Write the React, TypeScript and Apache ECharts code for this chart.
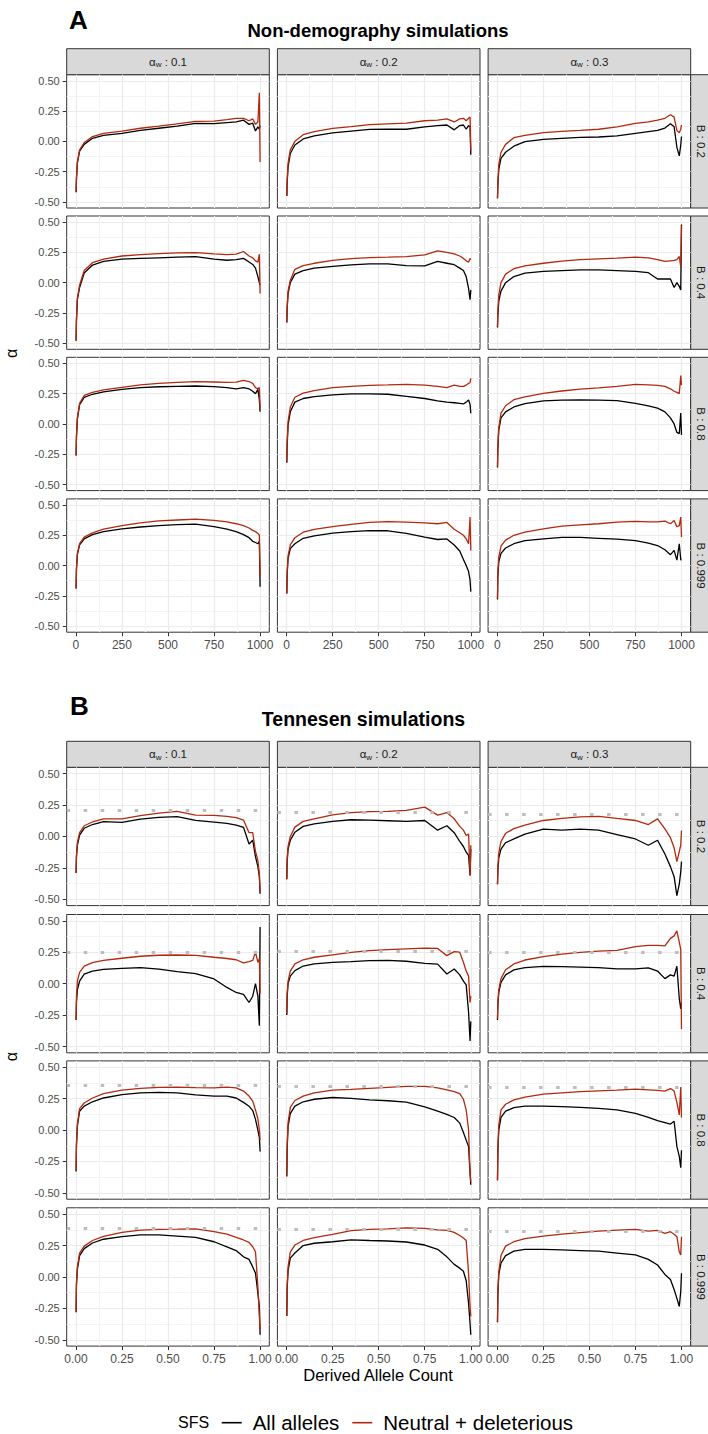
import React, { useEffect, useRef } from "react";
import * as echarts from "echarts";

const FONT = "'Liberation Sans', Arial, Helvetica, sans-serif";

// ---------- categories and tick labels ----------
const alphaWLevels = ["0.1", "0.2", "0.3"];
const bLevels = ["0.2", "0.4", "0.8", "0.999"];
const seriesNames = ["All alleles", "Neutral + deleterious"];
const yTickValues = [-0.5, -0.25, 0, 0.25, 0.5];
const xTickValuesA = [0, 250, 500, 750, 1000];
const xTickValuesB = [0, 0.25, 0.5, 0.75, 1];

// ---------- x positions of the sampled points ----------
const derivedCountA = [1, 3, 8, 20, 45, 90, 150, 250, 350, 450, 550, 650, 750, 820, 870, 910, 940, 960, 975, 988, 996, 1000];
const derivedFreqB = [0.001, 0.003, 0.008, 0.02, 0.045, 0.09, 0.15, 0.25, 0.35, 0.45, 0.55, 0.65, 0.75, 0.82, 0.87, 0.91, 0.94, 0.96, 0.975, 0.988, 0.996, 1.0];

// ---------- A: Non-demography simulations ----------
const ndB02W01All = [-0.42, -0.31, -0.18, -0.08, -0.025, 0.025, 0.05, 0.066, 0.09, 0.108, 0.125, 0.148, 0.147, 0.155, 0.16, 0.175, 0.14, 0.15, 0.085, 0.12, 0.10, 0.13];
const ndB02W01Neu = [-0.41, -0.30, -0.17, -0.07, -0.01, 0.04, 0.065, 0.085, 0.108, 0.125, 0.145, 0.165, 0.167, 0.18, 0.19, 0.19, 0.17, 0.185, 0.14, 0.16, 0.40, -0.17];
const ndB02W02All = [-0.45, -0.34, -0.21, -0.10, -0.03, 0.02, 0.045, 0.07, 0.085, 0.098, 0.10, 0.10, 0.12, 0.13, 0.135, 0.095, 0.13, 0.135, 0.10, 0.13, 0.12, -0.11];
const ndB02W02Neu = [-0.45, -0.32, -0.18, -0.07, 0.0, 0.055, 0.08, 0.107, 0.122, 0.138, 0.145, 0.15, 0.17, 0.175, 0.185, 0.16, 0.185, 0.19, 0.17, 0.19, 0.2, -0.08];
const ndB02W03All = [-0.47, -0.36, -0.23, -0.14, -0.09, -0.04, -0.003, 0.016, 0.025, 0.032, 0.036, 0.045, 0.066, 0.08, 0.09, 0.11, 0.145, 0.12, -0.05, -0.12, -0.03, 0.04];
const ndB02W03Neu = [-0.47, -0.34, -0.19, -0.09, -0.025, 0.03, 0.05, 0.072, 0.083, 0.09, 0.10, 0.12, 0.148, 0.16, 0.175, 0.19, 0.22, 0.20, 0.09, 0.07, 0.10, 0.135];

const ndB04W01All = [-0.48, -0.31, -0.14, -0.04, 0.08, 0.145, 0.175, 0.194, 0.20, 0.205, 0.21, 0.214, 0.194, 0.185, 0.19, 0.20, 0.17, 0.15, 0.12, 0.05, 0.0, -0.02];
const ndB04W01Neu = [-0.48, -0.30, -0.13, -0.02, 0.10, 0.165, 0.195, 0.22, 0.232, 0.24, 0.245, 0.248, 0.238, 0.232, 0.235, 0.257, 0.22, 0.205, 0.18, 0.17, 0.235, -0.09];
const ndB04W02All = [-0.33, -0.21, -0.09, 0.0, 0.07, 0.10, 0.12, 0.134, 0.146, 0.155, 0.155, 0.14, 0.138, 0.175, 0.16, 0.148, 0.12, 0.10, 0.05, -0.05, -0.14, -0.06];
const ndB04W02Neu = [-0.32, -0.20, -0.07, 0.02, 0.11, 0.14, 0.16, 0.183, 0.198, 0.207, 0.21, 0.215, 0.23, 0.262, 0.25, 0.237, 0.22, 0.20, 0.18, 0.17, 0.20, 0.19];
const ndB04W03All = [-0.37, -0.27, -0.15, -0.07, 0.0, 0.05, 0.078, 0.093, 0.10, 0.105, 0.105, 0.10, 0.093, 0.082, 0.03, 0.03, 0.03, -0.04, 0.0, -0.03, -0.06, 0.48];
const ndB04W03Neu = [-0.36, -0.24, -0.10, 0.0, 0.07, 0.115, 0.138, 0.16, 0.178, 0.19, 0.196, 0.202, 0.21, 0.205, 0.19, 0.175, 0.18, 0.183, 0.19, 0.216, 0.13, 0.47];

const ndB08W01All = [-0.26, -0.11, 0.04, 0.16, 0.22, 0.245, 0.265, 0.286, 0.30, 0.307, 0.31, 0.313, 0.308, 0.30, 0.29, 0.30, 0.29, 0.27, 0.25, 0.285, 0.20, 0.10];
const ndB08W01Neu = [-0.26, -0.10, 0.05, 0.17, 0.235, 0.26, 0.282, 0.302, 0.322, 0.335, 0.343, 0.35, 0.346, 0.343, 0.345, 0.36, 0.35, 0.335, 0.30, 0.29, 0.30, 0.13];
const ndB08W02All = [-0.32, -0.17, -0.01, 0.10, 0.18, 0.21, 0.226, 0.24, 0.248, 0.248, 0.245, 0.228, 0.21, 0.19, 0.18, 0.175, 0.17, 0.165, 0.18, 0.198, 0.16, 0.088];
const ndB08W02Neu = [-0.31, -0.15, 0.02, 0.14, 0.22, 0.255, 0.275, 0.30, 0.31, 0.318, 0.322, 0.327, 0.32, 0.31, 0.30, 0.32, 0.31, 0.31, 0.32, 0.335, 0.34, 0.376];
const ndB08W03All = [-0.36, -0.20, -0.05, 0.05, 0.10, 0.14, 0.168, 0.19, 0.197, 0.198, 0.197, 0.193, 0.17, 0.15, 0.13, 0.10, 0.05, 0.0, -0.07, -0.08, 0.09, -0.09];
const ndB08W03Neu = [-0.35, -0.18, -0.03, 0.09, 0.15, 0.20, 0.223, 0.253, 0.272, 0.287, 0.298, 0.31, 0.327, 0.322, 0.318, 0.31, 0.29, 0.27, 0.26, 0.25, 0.40, 0.32];

const ndB0999W01All = [-0.19, -0.03, 0.09, 0.17, 0.22, 0.255, 0.28, 0.303, 0.318, 0.33, 0.338, 0.342, 0.322, 0.30, 0.28, 0.255, 0.23, 0.20, 0.19, 0.18, 0.20, -0.175];
const ndB0999W01Neu = [-0.19, -0.02, 0.10, 0.18, 0.235, 0.27, 0.30, 0.33, 0.352, 0.368, 0.376, 0.383, 0.372, 0.36, 0.345, 0.33, 0.31, 0.29, 0.28, 0.265, 0.25, -0.09];
const ndB0999W02All = [-0.23, -0.07, 0.06, 0.14, 0.18, 0.225, 0.245, 0.268, 0.28, 0.288, 0.287, 0.266, 0.235, 0.215, 0.22, 0.17, 0.12, 0.05, 0.0, -0.05, -0.12, -0.215];
const ndB0999W02Neu = [-0.23, -0.05, 0.08, 0.17, 0.23, 0.275, 0.298, 0.322, 0.34, 0.357, 0.362, 0.358, 0.352, 0.345, 0.356, 0.30, 0.27, 0.25, 0.22, 0.18, 0.40, 0.125];
const ndB0999W03All = [-0.28, -0.08, 0.03, 0.10, 0.145, 0.18, 0.205, 0.22, 0.233, 0.232, 0.225, 0.218, 0.205, 0.185, 0.165, 0.13, 0.09, 0.125, 0.045, 0.18, 0.05, 0.044];
const ndB0999W03Neu = [-0.27, -0.05, 0.07, 0.16, 0.21, 0.25, 0.275, 0.303, 0.325, 0.335, 0.345, 0.358, 0.365, 0.36, 0.36, 0.366, 0.345, 0.372, 0.32, 0.33, 0.40, 0.235];

// ---------- B: Tennesen simulations ----------
const tnB02W01All = [-0.29, -0.16, -0.07, 0.01, 0.065, 0.095, 0.118, 0.112, 0.138, 0.152, 0.158, 0.128, 0.114, 0.104, 0.09, 0.072, -0.06, -0.03, -0.16, -0.24, -0.32, -0.455];
const tnB02W01Neu = [-0.285, -0.15, -0.05, 0.03, 0.085, 0.115, 0.14, 0.14, 0.165, 0.185, 0.20, 0.17, 0.167, 0.16, 0.15, 0.13, 0.03, 0.03, -0.12, -0.19, -0.30, -0.44];
const tnB02W02All = [-0.34, -0.20, -0.10, -0.03, 0.034, 0.08, 0.10, 0.12, 0.133, 0.13, 0.125, 0.12, 0.127, 0.05, 0.085, 0.03, -0.04, -0.08, -0.125, -0.15, -0.31, -0.10];
const tnB02W02Neu = [-0.34, -0.18, -0.08, 0.0, 0.074, 0.12, 0.14, 0.172, 0.19, 0.198, 0.20, 0.208, 0.233, 0.17, 0.19, 0.14, 0.08, 0.05, 0.008, 0.02, -0.31, -0.07];
const tnB02W03All = [-0.38, -0.27, -0.17, -0.10, -0.05, -0.02, 0.018, 0.058, 0.05, 0.058, 0.05, 0.015, -0.02, -0.07, -0.03, -0.14, -0.24, -0.32, -0.47, -0.38, -0.28, -0.20];
const tnB02W03Neu = [-0.38, -0.25, -0.13, -0.04, 0.025, 0.062, 0.09, 0.127, 0.143, 0.155, 0.16, 0.143, 0.127, 0.095, 0.14, 0.06, -0.01, -0.09, -0.20, -0.12, -0.07, 0.048];

const tnB04W01All = [-0.29, -0.15, -0.05, 0.02, 0.075, 0.10, 0.113, 0.122, 0.128, 0.115, 0.095, 0.08, 0.037, -0.03, -0.07, -0.085, -0.15, -0.10, 0.0, -0.10, -0.335, 0.45];
const tnB04W01Neu = [-0.29, -0.10, 0.02, 0.09, 0.14, 0.168, 0.185, 0.202, 0.218, 0.226, 0.228, 0.225, 0.21, 0.20, 0.19, 0.165, 0.175, 0.185, 0.25, 0.17, 0.20, -0.08];
const tnB04W02All = [-0.25, -0.10, 0.0, 0.06, 0.104, 0.14, 0.158, 0.17, 0.175, 0.183, 0.185, 0.178, 0.162, 0.155, 0.077, 0.117, 0.07, 0.02, -0.01, -0.23, -0.455, -0.30];
const tnB04W02Neu = [-0.24, -0.08, 0.02, 0.10, 0.157, 0.19, 0.21, 0.229, 0.248, 0.262, 0.27, 0.277, 0.282, 0.28, 0.223, 0.255, 0.25, 0.17, 0.10, 0.06, -0.15, -0.10];
const tnB04W03All = [-0.29, -0.17, -0.07, 0.01, 0.07, 0.11, 0.128, 0.138, 0.136, 0.132, 0.128, 0.118, 0.117, 0.125, 0.10, 0.04, 0.07, 0.06, 0.138, -0.12, -0.20, -0.15];
const tnB04W03Neu = [-0.28, -0.15, -0.05, 0.04, 0.11, 0.157, 0.188, 0.215, 0.235, 0.248, 0.258, 0.265, 0.295, 0.305, 0.305, 0.30, 0.36, 0.38, 0.42, 0.33, 0.27, -0.36];

const tnB08W01All = [-0.33, -0.12, 0.03, 0.15, 0.19, 0.225, 0.255, 0.282, 0.296, 0.30, 0.296, 0.28, 0.27, 0.27, 0.255, 0.22, 0.19, 0.155, 0.085, 0.0, -0.06, -0.17];
const tnB08W01Neu = [-0.32, -0.10, 0.05, 0.17, 0.215, 0.255, 0.29, 0.317, 0.332, 0.34, 0.342, 0.337, 0.335, 0.342, 0.335, 0.31, 0.27, 0.23, 0.16, 0.09, 0.0, -0.08];
const tnB08W02All = [-0.37, -0.15, 0.03, 0.13, 0.19, 0.225, 0.245, 0.259, 0.252, 0.24, 0.233, 0.222, 0.185, 0.15, 0.125, 0.10, 0.055, -0.02, -0.08, -0.13, -0.34, -0.435];
const tnB08W02Neu = [-0.36, -0.12, 0.06, 0.18, 0.235, 0.27, 0.295, 0.317, 0.324, 0.332, 0.34, 0.348, 0.348, 0.335, 0.32, 0.305, 0.29, 0.245, 0.16, 0.0, -0.34, -0.41];
const tnB08W03All = [-0.40, -0.17, 0.0, 0.10, 0.15, 0.178, 0.19, 0.19, 0.186, 0.18, 0.172, 0.16, 0.132, 0.10, 0.075, 0.06, 0.048, 0.07, -0.13, -0.21, -0.30, -0.16];
const tnB08W03Neu = [-0.40, -0.15, 0.04, 0.16, 0.205, 0.24, 0.262, 0.285, 0.295, 0.305, 0.312, 0.318, 0.325, 0.32, 0.315, 0.31, 0.33, 0.31, 0.22, 0.12, 0.343, 0.10];

const tnB0999W01All = [-0.28, -0.06, 0.06, 0.17, 0.225, 0.27, 0.30, 0.32, 0.335, 0.335, 0.325, 0.315, 0.28, 0.24, 0.21, 0.16, 0.14, 0.08, 0.03, -0.13, -0.235, -0.46];
const tnB0999W01Neu = [-0.27, -0.05, 0.08, 0.19, 0.245, 0.29, 0.322, 0.354, 0.372, 0.378, 0.38, 0.383, 0.36, 0.34, 0.315, 0.294, 0.275, 0.24, 0.20, -0.077, -0.315, -0.42];
const tnB0999W02All = [-0.31, -0.09, 0.05, 0.15, 0.19, 0.25, 0.268, 0.28, 0.295, 0.29, 0.286, 0.278, 0.254, 0.22, 0.16, 0.10, 0.07, 0.045, -0.03, -0.21, -0.37, -0.46];
const tnB0999W02Neu = [-0.31, -0.07, 0.08, 0.20, 0.254, 0.29, 0.312, 0.339, 0.368, 0.378, 0.383, 0.39, 0.386, 0.375, 0.37, 0.355, 0.33, 0.31, 0.29, 0.03, -0.235, -0.315];
const tnB0999W03All = [-0.36, -0.14, 0.02, 0.11, 0.17, 0.205, 0.22, 0.22, 0.215, 0.21, 0.205, 0.19, 0.175, 0.14, 0.095, 0.02, -0.02, -0.10, -0.17, -0.235, -0.116, 0.029];
const tnB0999W03Neu = [-0.355, -0.12, 0.04, 0.17, 0.245, 0.28, 0.305, 0.325, 0.34, 0.353, 0.365, 0.373, 0.378, 0.365, 0.37, 0.347, 0.36, 0.34, 0.32, 0.20, 0.175, 0.32];

// expected alpha (grey dotted line) in the Tennesen panels, by row (B) and column (alpha_w)
const expectedB02 = [0.207, 0.19, 0.178];
const expectedB04 = [0.253, 0.263, 0.247];
const expectedB08 = [0.359, 0.348, 0.338];
const expectedB0999 = [0.389, 0.381, 0.365];

const panelsA = [
  [[ndB02W01All, ndB02W01Neu], [ndB02W02All, ndB02W02Neu], [ndB02W03All, ndB02W03Neu]],
  [[ndB04W01All, ndB04W01Neu], [ndB04W02All, ndB04W02Neu], [ndB04W03All, ndB04W03Neu]],
  [[ndB08W01All, ndB08W01Neu], [ndB08W02All, ndB08W02Neu], [ndB08W03All, ndB08W03Neu]],
  [[ndB0999W01All, ndB0999W01Neu], [ndB0999W02All, ndB0999W02Neu], [ndB0999W03All, ndB0999W03Neu]],
];
const panelsB = [
  [[tnB02W01All, tnB02W01Neu], [tnB02W02All, tnB02W02Neu], [tnB02W03All, tnB02W03Neu]],
  [[tnB04W01All, tnB04W01Neu], [tnB04W02All, tnB04W02Neu], [tnB04W03All, tnB04W03Neu]],
  [[tnB08W01All, tnB08W01Neu], [tnB08W02All, tnB08W02Neu], [tnB08W03All, tnB08W03Neu]],
  [[tnB0999W01All, tnB0999W01Neu], [tnB0999W02All, tnB0999W02Neu], [tnB0999W03All, tnB0999W03Neu]],
];
const expectedB = [expectedB02, expectedB04, expectedB08, expectedB0999];

// ---------- layout ----------
const colLeft = [66.7, 277.4, 488.1];
const panelW = 202.6;
const rowTopA = [74.7, 216.0, 357.3, 498.9];
const panelHA = 133.3;
const rowTopB = [767.3, 914.5, 1060.9, 1207.8];
const panelHB = 138.3;
const stripTopA = 48.7;
const stripTopB = 741.3;
const rightStripX = 690.7;

const COL_ALL = "#000000";
const COL_NEU = "#B2290F";
const TR = "rgba(0,0,0,0)";
const MAJOR = "#EBEBEB";
const MINOR = "#F3F3F3";
const gridCycle = [TR, TR, MAJOR, TR, TR, TR, TR, MINOR, TR, TR];

function isTick(v: number, ticks: number[]) {
  return ticks.some((t) => Math.abs(t - v) < 1e-7);
}

function buildOption() {
  const grid: any[] = [];
  const xAxis: any[] = [];
  const yAxis: any[] = [];
  const series: any[] = [];
  const graphic: any[] = [];

  const sections = [
    {
      tops: rowTopA, h: panelHA, panels: panelsA, xs: derivedCountA,
      xMin: -50, xMax: 1050, xStep: 25, xTicks: xTickValuesA,
      xFmt: (v: number) => String(Math.round(v)), expected: null as any, stripTop: stripTopA,
    },
    {
      tops: rowTopB, h: panelHB, panels: panelsB, xs: derivedFreqB,
      xMin: -0.05, xMax: 1.05, xStep: 0.025, xTicks: xTickValuesB,
      xFmt: (v: number) => v.toFixed(2), expected: expectedB, stripTop: stripTopB,
    },
  ];

  let g = 0;
  sections.forEach((sec) => {
    sec.tops.forEach((top, r) => {
      colLeft.forEach((left, c) => {
        const showX = r === 3;
        const showY = c === 0;
        grid.push({
          left, top, width: panelW, height: sec.h,
          show: true, backgroundColor: "#FFFFFF", borderColor: "#333333", borderWidth: 1,
          containLabel: false, outerBoundsMode: "none",
        });
        // labelled x axis
        xAxis.push({
          type: "value", gridIndex: g, position: "bottom",
          min: sec.xMin, max: sec.xMax, interval: sec.xStep,
          axisLine: { show: false, onZero: false }, splitLine: { show: false }, minorTick: { show: false },
          axisTick: { show: showX, length: 4, inside: false, lineStyle: { color: "#333333", width: 1 }, customValues: sec.xTicks },
          axisLabel: {
            show: showX, customValues: sec.xTicks, margin: 7, color: "#4D4D4D", fontSize: 12, fontFamily: FONT,
            formatter: (v: number) => (isTick(v, sec.xTicks) ? sec.xFmt(v) : ""),
          },
        });
        // grid-line x axis
        xAxis.push({
          type: "value", gridIndex: g, position: "bottom",
          min: sec.xMin, max: sec.xMax, interval: sec.xStep,
          axisLine: { show: false, onZero: false }, axisTick: { show: false }, axisLabel: { show: false },
          splitLine: { show: true, lineStyle: { color: gridCycle, width: 1.2 } },
        });
        // labelled y axis
        yAxis.push({
          type: "value", gridIndex: g, position: "left",
          min: -0.55, max: 0.55, interval: 0.025,
          axisLine: { show: false, onZero: false }, splitLine: { show: false }, minorTick: { show: false },
          axisTick: { show: showY, length: 4, inside: false, lineStyle: { color: "#333333", width: 1 }, customValues: yTickValues },
          axisLabel: {
            show: showY, customValues: yTickValues, margin: 7, color: "#4D4D4D", fontSize: 11, fontFamily: FONT,
            formatter: (v: number) => (isTick(v, yTickValues) ? v.toFixed(2) : ""),
          },
        });
        // grid-line y axis
        yAxis.push({
          type: "value", gridIndex: g, position: "left",
          min: -0.55, max: 0.55, interval: 0.025,
          axisLine: { show: false, onZero: false }, axisTick: { show: false }, axisLabel: { show: false },
          splitLine: { show: true, lineStyle: { color: gridCycle, width: 1.2 } },
        });

        const [all, neu] = sec.panels[r][c];
        series.push({
          type: "line", name: seriesNames[0], xAxisIndex: 2 * g, yAxisIndex: 2 * g,
          data: sec.xs.map((x, i) => [x, all[i]]),
          symbol: "none", showSymbol: false, silent: true, z: 3,
          lineStyle: { color: COL_ALL, width: 1.3 }, itemStyle: { color: COL_ALL },
        });
        const neuSeries: any = {
          type: "line", name: seriesNames[1], xAxisIndex: 2 * g, yAxisIndex: 2 * g,
          data: sec.xs.map((x, i) => [x, neu[i]]),
          symbol: "none", showSymbol: false, silent: true, z: 4,
          lineStyle: { color: COL_NEU, width: 1.3 }, itemStyle: { color: COL_NEU },
        };
        if (sec.expected) {
          neuSeries.markLine = {
            silent: true, symbol: ["none", "none"], label: { show: false }, animation: false,
            lineStyle: { color: "#BDBDBD", width: 3, type: [3.5, 13.5], cap: "butt" },
            emphasis: { disabled: true },
            data: [{ yAxis: sec.expected[r][c] }],
          };
        }
        series.push(neuSeries);
        g++;
      });
    });

    // top strips
    const stripStyle = { fill: "#D9D9D9", stroke: "#333333", lineWidth: 1 };
    colLeft.forEach((left, c) => {
      graphic.push({ type: "rect", shape: { x: left, y: sec.stripTop, width: panelW, height: sec.tops[0] - sec.stripTop }, style: stripStyle });
      graphic.push({
        type: "text", x: left + panelW / 2, y: sec.stripTop + (sec.tops[0] - sec.stripTop) / 2,
        style: {
          text: `{a|α}{s|w}{a| : ${alphaWLevels[c]}}`,
          align: "center", verticalAlign: "middle",
          rich: {
            a: { fontSize: 11.5, fontFamily: FONT, fill: "#1A1A1A", lineHeight: 14 },
            s: { fontSize: 8, fontFamily: FONT, fill: "#1A1A1A", lineHeight: 9, verticalAlign: "bottom" },
          },
        },
      });
    });
    // right strips
    sec.tops.forEach((top, r) => {
      graphic.push({ type: "rect", shape: { x: rightStripX, y: top, width: 24, height: sec.h }, style: stripStyle });
      graphic.push({
        type: "text", x: 701, y: top + sec.h / 2, rotation: -Math.PI / 2,
        style: { text: `B : ${bLevels[r]}`, fontSize: 11.5, fontFamily: FONT, fill: "#1A1A1A", align: "center", verticalAlign: "middle" },
      });
    });
  });

  // section letters and titles
  graphic.push({ type: "text", x: 69, y: 19.5, style: { text: "A", fontSize: 26, fontWeight: "bold", fontFamily: FONT, fill: "#000", verticalAlign: "middle" } });
  graphic.push({ type: "text", x: 378, y: 30.5, style: { text: "Non-demography simulations", fontSize: 18.5, fontWeight: "bold", fontFamily: FONT, fill: "#000", align: "center", verticalAlign: "middle" } });
  graphic.push({ type: "text", x: 70, y: 705.8, style: { text: "B", fontSize: 26, fontWeight: "bold", fontFamily: FONT, fill: "#000", verticalAlign: "middle" } });
  graphic.push({ type: "text", x: 363.5, y: 718.7, style: { text: "Tennesen simulations", fontSize: 19.5, fontWeight: "bold", fontFamily: FONT, fill: "#000", align: "center", verticalAlign: "middle" } });
  // y axis titles
  graphic.push({ type: "text", x: 11, y: (rowTopA[0] + rowTopA[3] + panelHA) / 2, rotation: Math.PI / 2, style: { text: "α", fontSize: 16, fontFamily: FONT, fill: "#000", align: "center", verticalAlign: "middle" } });
  graphic.push({ type: "text", x: 11, y: (rowTopB[0] + rowTopB[3] + panelHB) / 2, rotation: Math.PI / 2, style: { text: "α", fontSize: 16, fontFamily: FONT, fill: "#000", align: "center", verticalAlign: "middle" } });
  // x axis title
  graphic.push({ type: "text", x: 378, y: 1374.8, style: { text: "Derived Allele Count", fontSize: 16.5, fontFamily: FONT, fill: "#000", align: "center", verticalAlign: "middle" } });
  // legend title
  graphic.push({ type: "text", x: 178, y: 1422.7, style: { text: "SFS", fontSize: 16, fontFamily: FONT, fill: "#000", align: "left", verticalAlign: "middle" } });

  return {
    animation: false,
    backgroundColor: "#FFFFFF",
    grid, xAxis, yAxis, series, graphic,
    legend: {
      data: seriesNames,
      left: 221.7, top: 1410.7, padding: 0,
      icon: "rect", itemWidth: 20, itemHeight: 1.6, itemGap: 13,
      selectedMode: false,
      textStyle: { fontSize: 20.5, fontFamily: FONT, color: "#000", lineHeight: 24, padding: [0, 0, 0, 6] },
    },
  };
}

export default function App() {
  const ref = useRef<HTMLDivElement>(null);
  useEffect(() => {
    if (!ref.current) return;
    const chart = echarts.init(ref.current, undefined, { renderer: "svg" });
    chart.setOption(buildOption() as any);
    return () => chart.dispose();
  }, []);
  return (
    <div
      ref={ref}
      style={{ position: "absolute", left: 0, top: 0, width: 708, height: 1434, background: "#fff" }}
    />
  );
}
